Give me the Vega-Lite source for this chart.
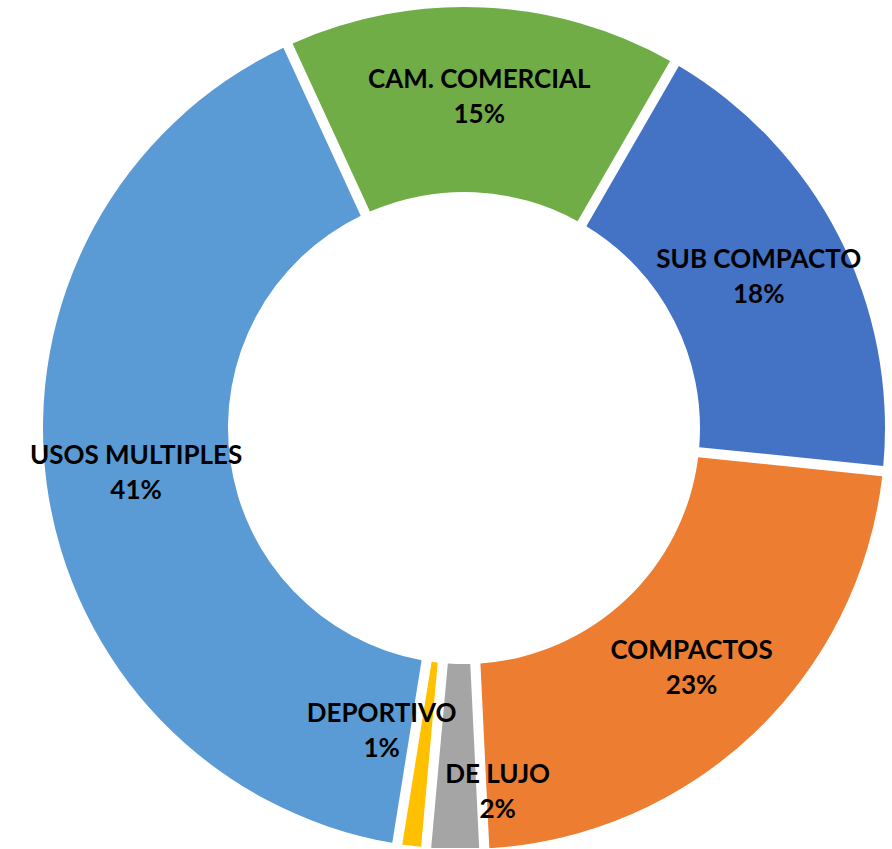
{
  "$schema": "https://vega.github.io/schema/vega-lite/v6.json",
  "width": 856,
  "height": 840,
  "autosize": {"type": "none"},
  "padding": {"left": 36, "top": 8, "right": 0, "bottom": 0},
  "background": "white",
  "config": {"view": {"stroke": null}},
  "data": {
    "values": [
      {"name": "SUB COMPACTO", "label": "SUB COMPACTO\n18%", "value": 18.3, "orden": 1},
      {"name": "COMPACTOS", "label": "COMPACTOS\n23%", "value": 22.6, "orden": 2},
      {"name": "DE LUJO", "label": "DE LUJO\n2%", "value": 2.2, "orden": 3},
      {"name": "DEPORTIVO", "label": "DEPORTIVO\n1%", "value": 1.1, "orden": 4},
      {"name": "USOS MULTIPLES", "label": "USOS MULTIPLES\n41%", "value": 40.6, "orden": 5},
      {"name": "CAM. COMERCIAL", "label": "CAM. COMERCIAL\n15%", "value": 15.2, "orden": 6}
    ]
  },
  "encoding": {
    "theta": {
      "field": "value",
      "type": "quantitative",
      "stack": true,
      "scale": {"range": [0.5236, 6.8068]}
    },
    "order": {"field": "orden", "type": "quantitative"}
  },
  "layer": [
    {
      "mark": {"type": "arc", "innerRadius": 236, "outerRadius": 421, "padAngle": 0.021},
      "encoding": {
        "color": {
          "field": "name",
          "type": "nominal",
          "legend": null,
          "scale": {
            "domain": ["SUB COMPACTO", "COMPACTOS", "DE LUJO", "DEPORTIVO", "USOS MULTIPLES", "CAM. COMERCIAL"],
            "range": ["#4472C4", "#ED7D31", "#A5A5A5", "#FFC000", "#5B9BD5", "#70AD47"]
          }
        }
      }
    },
    {
      "mark": {"type": "text", "radius": 331, "dy": -17, "font": "Lato", "fontWeight": "bold", "fontSize": 26, "lineBreak": "\n", "lineHeight": 35, "align": "center", "baseline": "middle", "color": "black"},
      "encoding": {
        "text": {"field": "label", "type": "nominal"},
        "opacity": {"condition": {"test": "datum.name != 'DE LUJO' && datum.name != 'DEPORTIVO'", "value": 1}, "value": 0}
      }
    },
    {
      "mark": {"type": "text", "radius": 366, "thetaOffset": -0.113, "dy": -17, "font": "Lato", "fontWeight": "bold", "fontSize": 26, "lineBreak": "\n", "lineHeight": 35, "align": "center", "baseline": "middle", "color": "black"},
      "encoding": {
        "text": {"field": "label", "type": "nominal"},
        "opacity": {"condition": {"test": "datum.name == 'DE LUJO'", "value": 1}, "value": 0}
      }
    },
    {
      "mark": {"type": "text", "radius": 314, "thetaOffset": 0.141, "dy": -17, "font": "Lato", "fontWeight": "bold", "fontSize": 26, "lineBreak": "\n", "lineHeight": 35, "align": "center", "baseline": "middle", "color": "black"},
      "encoding": {
        "text": {"field": "label", "type": "nominal"},
        "opacity": {"condition": {"test": "datum.name == 'DEPORTIVO'", "value": 1}, "value": 0}
      }
    }
  ]
}
